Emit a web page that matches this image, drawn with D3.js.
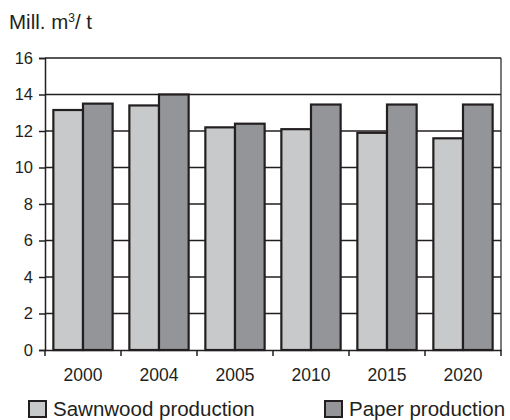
<!DOCTYPE html>
<html><head><meta charset="utf-8">
<script src="https://cdn.jsdelivr.net/npm/d3@7"></script>
<style>body{margin:0;background:#fff}svg{display:block;font-family:Arial,"Liberation Sans",sans-serif}</style>
</head><body><svg id="c" width="510" height="420"></svg>
<script>
const years = ["2000","2004","2005","2010","2015","2020"];
const sawnwood = [13.15, 13.4, 12.2, 12.1, 11.9, 11.6];
const paper = [13.5, 14.0, 12.4, 13.45, 13.45, 13.45];
const seriesNames = ["Sawnwood production","Paper production"];
const yTicks = [0,2,4,6,8,10,12,14,16];
const colors = ["#c8c9cb","#939598"];
const ink = "#231f20";

const svg = d3.select("#c");
const L=45, R=501, T=58, B=350;
const x = d3.scaleBand().domain(years).range([L,R]).paddingInner(0.22).paddingOuter(0.11);
const xs = d3.scaleBand().domain([0,1]).range([0,x.bandwidth()]);
const y = d3.scaleLinear().domain([0,16]).range([B,T]);

// gridlines
svg.append("g").selectAll("line").data(yTicks.filter(d=>d>0)).join("line")
  .attr("x1",L).attr("x2",R).attr("y1",d=>y(d)).attr("y2",d=>y(d))
  .attr("stroke",ink).attr("stroke-width",1.6);
// right border
svg.append("line").attr("x1",R).attr("x2",R).attr("y1",T).attr("y2",B).attr("stroke",ink).attr("stroke-width",1.2);

const data = years.map((yr,i)=>({yr, v:[sawnwood[i],paper[i]]}));
const g = svg.append("g").selectAll("g").data(data).join("g").attr("transform",d=>`translate(${x(d.yr)},0)`);
g.selectAll("rect").data(d=>d.v.map((v,k)=>({v,k}))).join("rect")
  .attr("x",d=>xs(d.k)).attr("width",xs.bandwidth())
  .attr("y",d=>y(d.v)).attr("height",d=>B-y(d.v))
  .attr("fill",d=>colors[d.k]).attr("stroke",ink).attr("stroke-width",2.2);

// y axis
const ya = svg.append("g").attr("transform",`translate(${L},0)`)
  .call(d3.axisLeft(y).tickValues(yTicks).tickSize(6).tickPadding(6));
ya.select(".domain").attr("stroke",ink).attr("stroke-width",1.5);
ya.selectAll(".tick line").attr("stroke",ink).attr("stroke-width",1.5);
ya.selectAll("text").attr("font-size",16.5).attr("fill","#231f20").attr("font-family","Arial, Liberation Sans, sans-serif");

// x axis
const xa = svg.append("g").attr("transform",`translate(0,${B})`)
  .call(d3.axisBottom(x).tickSize(0).tickPadding(19));
xa.select(".domain").attr("stroke",ink).attr("stroke-width",1.5);
xa.selectAll("text").attr("font-size",17.5).attr("fill","#231f20").attr("font-family","Arial, Liberation Sans, sans-serif");
// boundary ticks
const step = x.step();
const bounds = years.map((d,i)=>x(d)-x.paddingInner()*step/2).concat([R]);
svg.append("g").selectAll("line").data(bounds).join("line")
  .attr("x1",d=>d).attr("x2",d=>d).attr("y1",B).attr("y2",B+6)
  .attr("stroke",ink).attr("stroke-width",1.5);

// title
const t = svg.append("text").attr("x",9).attr("y",29).attr("font-size",20.5).attr("fill","#231f20");
t.append("tspan").text("Mill. m");
t.append("tspan").text("3").attr("font-size",12).attr("dy",-7);
t.append("tspan").text("/ t").attr("dy",7);

// legend
const legX = [29, 325];
const lg = svg.append("g").selectAll("g").data(seriesNames).join("g")
  .attr("transform",(d,i)=>`translate(${legX[i]},401)`);
lg.append("rect").attr("width",17).attr("height",16).attr("fill",(d,i)=>colors[i]).attr("stroke",ink).attr("stroke-width",2);
lg.append("text").attr("x",24).attr("y",14.5).attr("font-size",20.5).attr("fill","#231f20").text(d=>d);
</script></body></html>
